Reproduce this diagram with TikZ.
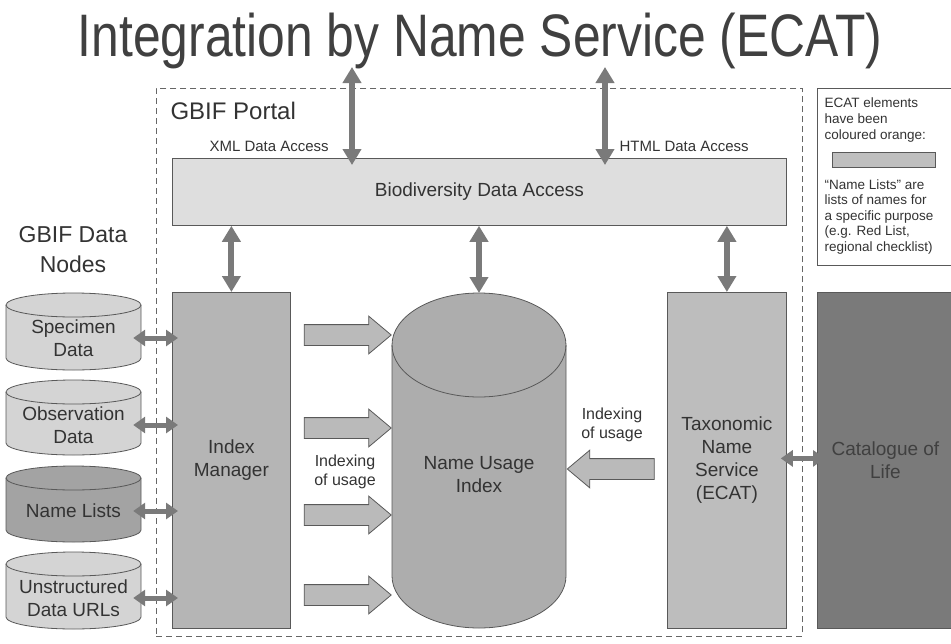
\documentclass[tikz,border=0pt]{standalone}
\usepackage{fontspec}
\setmainfont{Liberation Sans}
\usetikzlibrary{shapes.arrows, arrows.meta}

\begin{document}
\begin{tikzpicture}[x=1pt, y=-1pt,
    box/.style={draw=black!65, line width=0.8pt, inner sep=0pt, anchor=north west},
    dbase/.style={draw=black!65, line width=0.8pt},
    txt/.style={font=\fontsize{19}{23}\selectfont, text=black!80, align=center},
    small/.style={font=\fontsize{16}{19}\selectfont, text=black!80, align=center},
    bigarrow/.style={draw=black!52, line width=6pt, {Triangle[width=18pt,length=16pt]}-{Triangle[width=18pt,length=16pt]}},
    sidearrow/.style={draw=black!52, line width=5pt, {Triangle[width=16pt,length=12pt]}-{Triangle[width=16pt,length=12pt]}},
    feed/.style={single arrow, draw=black!65, fill=black!27, line width=0.8pt, minimum height=87pt,
        inner xsep=0pt, inner ysep=10pt, single arrow head extend=8.5pt, single arrow tip angle=80}]
    \useasboundingbox (0,0) rectangle (951,643);

    % Title
    \node[font=\fontsize{60}{60}\selectfont, text=black!75, anchor=base] (title) at (480,56)
        {\scalebox{0.83}[1]{Integration by Name Service (ECAT)}};

    % GBIF Portal
    \node[box, draw=black!60, line width=0.7pt, dash pattern=on 6pt off 4pt, minimum width=646pt, minimum height=548pt] (portal) at (156,88) {};
    \node[font=\fontsize{24}{28}\selectfont, text=black!80, anchor=base west] (portallbl) at (167,119) {GBIF Portal};
    \node[font=\fontsize{15}{18}\selectfont, text=black!80, anchor=base west] (xmllbl) at (206,151) {XML Data Access};
    \node[font=\fontsize{15}{18}\selectfont, text=black!80, anchor=base west] (htmllbl) at (616,151) {HTML Data Access};
    \node[box, fill=black!13, minimum width=614pt, minimum height=67pt, txt] (bio) at (172,158) {Biodiversity Data Access};
    \coordinate (xmltop) at (352,67);
    \coordinate (htmltop) at (605,67);
    \draw[bigarrow, shorten >=-7pt] (xmltop) -- (xmltop |- bio.north);
    \draw[bigarrow, shorten >=-7pt] (htmltop) -- (htmltop |- bio.north);

    % Index Manager, Name Usage Index, Taxonomic Name Service
    \node[box, fill=black!29, minimum width=118pt, minimum height=336pt, txt] (idx) at (172,292) {Index\\Manager};
    \filldraw[dbase, fill=black!32] (392,345) -- (392,576) arc[start angle=180, end angle=0, x radius=87, y radius=52]
        -- (566,345) arc[start angle=0, end angle=-180, x radius=87, y radius=52] -- cycle;
    \draw[dbase] (392,345) arc[start angle=180, end angle=0, x radius=87, y radius=52]; % front of the lid
    \coordinate (nuitop) at (479,293);
    \node[txt, minimum width=174pt] (nui) at (479,475) {Name Usage\\Index};
    \node[box, fill=black!26, minimum width=119pt, minimum height=336pt, txt] (tax) at (667,292) {Taxonomic\\Name\\Service\\(ECAT)};
    \draw[bigarrow] (bio.south -| idx.north) -- (idx.north);
    \draw[bigarrow] (bio.south -| nuitop) -- (nuitop);
    \draw[bigarrow] (bio.south -| tax.north) -- (tax.north);

    % Indexing of usage
    \node[feed] (feedA) at (341.5,335) {};
    \node[feed] (feedB) at (341.5,428) {};
    \node[feed] (feedC) at (341.5,515) {};
    \node[feed] (feedD) at (341.5,595) {};
    \node[small] (idxlbl) at (345,472) {Indexing\\of usage};
    \node[feed, shape border rotate=180] (feedE) at (617,469) {};
    \node[small] (taxlbl) at (612,425) {Indexing\\of usage};

    % GBIF Data Nodes
    \node[font=\fontsize{23}{30}\selectfont, text=black!80, align=center] (nodeslbl) at (73,250) {GBIF Data\\Nodes};
    \filldraw[dbase, fill=black!17] (6,305) -- (6,358) arc[start angle=180, end angle=0, x radius=67.5, y radius=12]
        -- (141,305) arc[start angle=0, end angle=-180, x radius=67.5, y radius=12] -- cycle;
    \draw[dbase] (6,305) arc[start angle=180, end angle=0, x radius=67.5, y radius=12];
    \filldraw[dbase, fill=black!17] (6,392) -- (6,443) arc[start angle=180, end angle=0, x radius=67.5, y radius=12]
        -- (141,392) arc[start angle=0, end angle=-180, x radius=67.5, y radius=12] -- cycle;
    \draw[dbase] (6,392) arc[start angle=180, end angle=0, x radius=67.5, y radius=12];
    \filldraw[dbase, fill=black!36] (6,478) -- (6,530) arc[start angle=180, end angle=0, x radius=67.5, y radius=12]
        -- (141,478) arc[start angle=0, end angle=-180, x radius=67.5, y radius=12] -- cycle;
    \draw[dbase] (6,478) arc[start angle=180, end angle=0, x radius=67.5, y radius=12];
    \filldraw[dbase, fill=black!17] (6,564) -- (6,617) arc[start angle=180, end angle=0, x radius=67.5, y radius=12]
        -- (141,564) arc[start angle=0, end angle=-180, x radius=67.5, y radius=12] -- cycle;
    \draw[dbase] (6,564) arc[start angle=180, end angle=0, x radius=67.5, y radius=12];
    \node[txt, minimum width=135pt, inner xsep=0pt] (spec) at (73.5,338) {Specimen\\Data};
    \node[txt, minimum width=135pt, inner xsep=0pt] (obs) at (73.5,425) {Observation\\Data};
    \node[txt, minimum width=135pt, inner xsep=0pt] (names) at (73.5,511) {Name Lists};
    \node[txt, minimum width=135pt, inner xsep=0pt] (urls) at (73.5,598) {Unstructured\\Data URLs};
    \draw[sidearrow, shorten <=-8pt, shorten >=-6pt] (spec.east) -- (spec.east -| idx.west);
    \draw[sidearrow, shorten <=-8pt, shorten >=-6pt] (obs.east) -- (obs.east -| idx.west);
    \draw[sidearrow, shorten <=-8pt, shorten >=-6pt] (names.east) -- (names.east -| idx.west);
    \draw[sidearrow, shorten <=-8pt, shorten >=-6pt] (urls.east) -- (urls.east -| idx.west);

    % Catalogue of Life
    \node[box, fill=black!52, minimum width=136pt, minimum height=336pt, txt, text=black!75] (col) at (817,292) {Catalogue of\\Life};
    \draw[sidearrow, shorten <=-6pt, shorten >=-8pt] ([yshift=2pt]tax.east) -- ([yshift=2pt]col.west);

    % Legend
    \node[box, fill=white, minimum width=134pt, minimum height=177pt] (legend) at (817,88) {};
    \node[font=\fontsize{13.5}{16}\selectfont, text=black!80, align=left, anchor=north west] (legendA) at (821,94)
        {ECAT elements\\have been\\coloured orange:};
    \node[box, fill=black!25, minimum width=103pt, minimum height=15pt] (swatch) at (832,152) {};
    \node[font=\fontsize{13.5}{15.5}\selectfont, text=black!80, align=left, anchor=north west] (legendB) at (821,176)
        {``Name Lists'' are\\lists of names for\\a specific purpose\\(e.g. Red List,\\regional checklist)};
\end{tikzpicture}
\end{document}
